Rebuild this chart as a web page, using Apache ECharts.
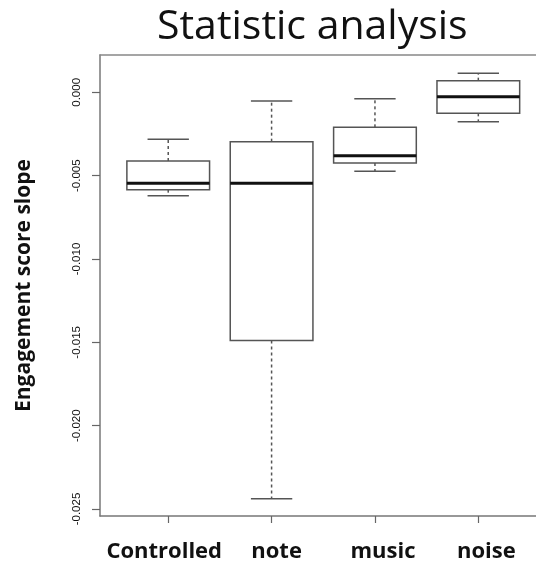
<!DOCTYPE html>
<html>
<head>
<meta charset="utf-8">
<script src="https://cdn.jsdelivr.net/npm/echarts@6/dist/echarts.min.js"></script>
<style>html,body{margin:0;padding:0;background:#fff}#c{width:536px;height:567px}</style>
</head>
<body>
<div id="c"></div>
<script>
const categories = ['Controlled', 'note', 'music', 'noise'];
const lowerWhisker = [-0.00620, -0.02438, -0.00474, -0.00176];
const q1 = [-0.00584, -0.01489, -0.00424, -0.00126];
const median = [-0.00546, -0.00546, -0.00380, -0.00026];
const q3 = [-0.00412, -0.00296, -0.00210, 0.00070];
const upperWhisker = [-0.00282, -0.00052, -0.00038, 0.00114];
const yTicks = [0, -0.005, -0.01, -0.015, -0.02, -0.025];
const yTickLabels = ['0.000', '-0.005', '-0.010', '-0.015', '-0.020', '-0.025'];
const xTicks = [1, 2, 3, 4];

const boxData = categories.map((c, i) => [i + 1, lowerWhisker[i], q1[i], median[i], q3[i], upperWhisker[i]]);

const chart = echarts.init(document.getElementById('c'), null, {renderer: 'canvas'});
const stroke = '#555';
const lbl = (pad) => ({fontFamily: 'Open Sans', fontWeight: 'bold', fontSize: 22, color: '#111', padding: pad});
const option = {
  animation: false,
  title: {
    text: 'Statistic analysis',
    left: 152, top: 2,
    textStyle: {fontFamily: 'Open Sans', fontWeight: 'normal', fontSize: 41, color: '#111'}
  },
  grid: {left: 100, right: 0, top: 55, bottom: 51, containLabel: false},
  xAxis: [{
    type: 'value', min: 0.34, max: 4.558, position: 'bottom',
    axisLine: {show: true, onZero: false, lineStyle: {color: '#777', width: 1.5}},
    axisTick: {show: true, customValues: xTicks, length: 7, lineStyle: {color: '#666', width: 1.2}},
    axisLabel: {
      customValues: xTicks, margin: 25,
      formatter: v => '{l' + (v - 1) + '|' + categories[v - 1] + '}',
      rich: {
        l0: lbl([0, 8, 0, 0]),
        l1: lbl([0, 0, 0, 10]),
        l2: lbl([0, 0, 0, 16]),
        l3: lbl([0, 0, 0, 16])
      }
    },
    splitLine: {show: false}
  }, {
    type: 'value', min: 0.34, max: 4.558, position: 'top',
    axisLine: {show: true, onZero: false, lineStyle: {color: '#888', width: 1.5}},
    axisTick: {show: false}, axisLabel: {show: false}, splitLine: {show: false}
  }],
  yAxis: {
    type: 'value', min: -0.02542, max: 0.00224,
    name: 'Engagement score slope', nameLocation: 'middle', nameGap: 65,
    nameTextStyle: {fontFamily: 'Open Sans', fontWeight: 'bold', fontSize: 21, color: '#111'},
    axisLine: {show: true, onZero: false, lineStyle: {color: '#777', width: 1.5}},
    axisTick: {show: true, customValues: yTicks, length: 8, lineStyle: {color: '#666', width: 1.2}},
    axisLabel: {
      customValues: yTicks, rotate: 90, margin: 17,
      formatter: v => yTickLabels[yTicks.findIndex(t => Math.abs(t - v) < 1e-9)],
      fontFamily: 'Liberation Sans', fontSize: 11.5, color: '#111'
    },
    splitLine: {show: false}
  },
  series: [{
    type: 'custom',
    data: boxData,
    encode: {x: 0, y: [1, 2, 3, 4, 5]},
    renderItem: function (params, api) {
      const x = api.value(0);
      const pLo = api.coord([x, api.value(1)]);
      const pQ1 = api.coord([x, api.value(2)]);
      const pMed = api.coord([x, api.value(3)]);
      const pQ3 = api.coord([x, api.value(4)]);
      const pHi = api.coord([x, api.value(5)]);
      const hb = api.size([0.8, 0])[0] / 2;
      const hc = api.size([0.4, 0])[0] / 2;
      const cx = pMed[0];
      const solid = {stroke: stroke, lineWidth: 1.5, fill: null};
      const dashed = {stroke: stroke, lineWidth: 1.5, lineDash: [3, 3], fill: null};
      return {
        type: 'group',
        children: [
          {type: 'line', shape: {x1: cx, y1: pQ3[1], x2: cx, y2: pHi[1]}, style: dashed},
          {type: 'line', shape: {x1: cx, y1: pQ1[1], x2: cx, y2: pLo[1]}, style: dashed},
          {type: 'line', shape: {x1: cx - hc, y1: pHi[1], x2: cx + hc, y2: pHi[1]}, style: solid},
          {type: 'line', shape: {x1: cx - hc, y1: pLo[1], x2: cx + hc, y2: pLo[1]}, style: solid},
          {type: 'rect', shape: {x: cx - hb, y: pQ3[1], width: 2 * hb, height: pQ1[1] - pQ3[1]}, style: {stroke: stroke, lineWidth: 1.5, fill: '#fff'}},
          {type: 'line', shape: {x1: cx - hb, y1: pMed[1], x2: cx + hb, y2: pMed[1]}, style: {stroke: '#111', lineWidth: 3}}
        ]
      };
    }
  }]
};
chart.setOption(option);
</script>
</body>
</html>
